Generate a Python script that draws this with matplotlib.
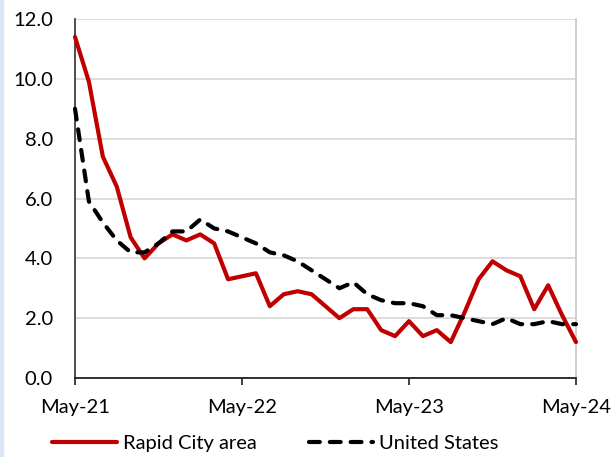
import matplotlib
matplotlib.use("Agg")
import matplotlib.pyplot as plt
from matplotlib.patches import Rectangle

# Month index 0 = May-21 ... 36 = May-24
months = list(range(37))
tick_positions = [0, 12, 24, 36]
tick_labels = ["May-21", "May-22", "May-23", "May-24"]

rapid_city = [11.4, 9.9, 7.4, 6.4, 4.7, 4.0, 4.5, 4.8, 4.6, 4.8, 4.5, 3.3,
              3.4, 3.5, 2.4, 2.8, 2.9, 2.8, 2.4, 2.0, 2.3, 2.3, 1.6, 1.4,
              1.9, 1.4, 1.6, 1.2, 2.2, 3.3, 3.9, 3.6, 3.4, 2.3, 3.1, 2.1,
              1.2]
united_states = [9.0, 5.9, 5.2, 4.6, 4.2, 4.2, 4.5, 4.9, 4.9, 5.3, 5.0, 4.9,
                 4.7, 4.5, 4.2, 4.1, 3.9, 3.6, 3.3, 3.0, 3.2, 2.8, 2.6, 2.5,
                 2.5, 2.4, 2.1, 2.1, 2.0, 1.9, 1.8, 2.0, 1.8, 1.8, 1.9, 1.8,
                 1.8]

series_names = ["Rapid City area", "United States"]

plt.rcParams['font.family'] = ['Lato', 'DejaVu Sans']
FS = 14.5

fig = plt.figure(figsize=(6.16, 4.57), dpi=100)
ax = fig.add_axes([75/616, 1-378/457, (576-75)/616, (378-19)/457])

ax.plot(months, rapid_city, color="#C00000", lw=3.0, solid_capstyle="round",
        solid_joinstyle="round", label=series_names[0], clip_on=False, zorder=3)
ax.plot(months, united_states, color="black", lw=3.0, linestyle=(0, (2.6, 2.4)),
        dash_capstyle="round", dash_joinstyle="round", label=series_names[1],
        clip_on=False, zorder=4)

ax.set_xlim(0, 36)
ax.set_ylim(0, 12)
ax.set_yticks([0, 2, 4, 6, 8, 10, 12])
ax.set_yticklabels([f"{v:.1f}" for v in [0, 2, 4, 6, 8, 10, 12]])
ax.set_xticks(tick_positions)
ax.set_xticklabels(tick_labels)

ax.grid(axis="y", color="#d9d9d9", lw=1.3)
ax.set_axisbelow(True)

ax.spines["top"].set_visible(False)
ax.spines["right"].set_color("#c8c8c8")
ax.spines["right"].set_linewidth(1.2)
ax.spines["left"].set_color("#404040")
ax.spines["left"].set_linewidth(1.3)
ax.spines["bottom"].set_color("#202020")
ax.spines["bottom"].set_linewidth(1.3)

ax.tick_params(axis="y", length=0, pad=16, labelsize=FS)
ax.tick_params(axis="x", length=5, width=1.2, direction="out", pad=10,
               labelsize=FS, color="#202020")

leg = ax.legend(loc="center", bbox_to_anchor=(0.40, -0.183), ncol=2,
                frameon=False, fontsize=FS, handlelength=3.2,
                handletextpad=0.3, columnspacing=2.6)

fig.patches.append(Rectangle((0, 0), 3/616, 1, transform=fig.transFigure,
                             color="#dbe5f3", zorder=0))

fig.savefig("out.png", dpi=100)
